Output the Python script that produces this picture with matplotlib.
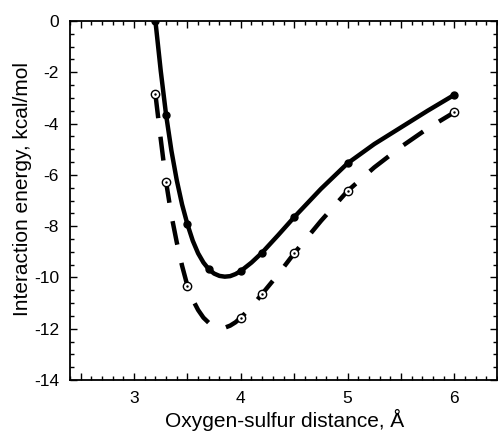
import matplotlib
matplotlib.use("Agg")
import matplotlib.pyplot as plt
from matplotlib.ticker import MultipleLocator, FuncFormatter

plt.rcParams["font.family"] = ["Liberation Sans", "DejaVu Sans"]

# computed points (filled = solid curve, open = dashed curve)
x_solid = [3.2, 3.3, 3.5, 3.7, 4.0, 4.2, 4.5, 5.0, 6.0]
y_solid = [0.0, -3.66, -7.93, -9.68, -9.75, -9.03, -7.65, -5.55, -2.88]
x_open = [3.2, 3.3, 3.5, 4.0, 4.2, 4.5, 5.0, 6.0]
y_open = [-2.86, -6.28, -10.33, -11.57, -10.64, -9.06, -6.63, -3.56]

# smooth curves
xc_solid = [3.2, 3.25, 3.3, 3.35, 3.4, 3.45, 3.5, 3.55, 3.6, 3.65, 3.7, 3.75,
            3.8, 3.85, 3.9, 3.95, 4.0, 4.1, 4.2, 4.35, 4.5, 4.75, 5.0, 5.25,
            5.5, 5.75, 6.0]
yc_solid = [0.0, -1.95, -3.66, -5.06, -6.21, -7.16, -7.93, -8.57, -9.06, -9.42,
            -9.68, -9.85, -9.94, -9.97, -9.95, -9.87, -9.75, -9.42, -9.03,
            -8.35, -7.65, -6.55, -5.55, -4.8, -4.15, -3.5, -2.88]
xc_open = [3.2, 3.25, 3.3, 3.35, 3.4, 3.45, 3.5, 3.55, 3.6, 3.65, 3.7, 3.75,
           3.8, 3.85, 3.9, 3.95, 4.0, 4.1, 4.2, 4.35, 4.5, 4.75, 5.0, 5.25,
           5.5, 5.75, 6.0]
yc_open = [-2.86, -4.61, -6.28, -7.58, -8.63, -9.55, -10.33, -10.87, -11.27,
           -11.57, -11.77, -11.9, -11.96, -11.96, -11.88, -11.75, -11.57,
           -11.15, -10.64, -9.88, -9.06, -7.8, -6.63, -5.71, -4.91, -4.19, -3.56]

fig = plt.figure(figsize=(4.98, 4.33), dpi=100)
ax = fig.add_axes([0.1406, 0.1224, 0.8574, 0.8291])

ax.plot(xc_solid, yc_solid, color="black", lw=3.2, solid_capstyle="round",
        solid_joinstyle="round")
ax.plot(xc_open, yc_open, color="black", lw=3.2, dashes=(5.4, 4.2),
        dash_capstyle="butt", dash_joinstyle="round")
ax.plot(x_solid, y_solid, "o", color="black", ms=5.0)
ax.plot(x_open, y_open, "o", mfc="white", mec="black", mew=1.0, ms=6.0)
ax.plot(x_open, y_open, ".", color="black", ms=1.5)

ax.set_xlim(2.4, 6.4)
ax.set_ylim(-14, 0)
ax.xaxis.set_major_locator(MultipleLocator(0.5))
ax.xaxis.set_minor_locator(MultipleLocator(0.1))
ax.xaxis.set_major_formatter(
    FuncFormatter(lambda v, p: "%d" % round(v) if abs(v - round(v)) < 1e-6 else ""))
ax.yaxis.set_major_locator(MultipleLocator(2))
ax.yaxis.set_minor_locator(MultipleLocator(0.5))
ax.yaxis.set_major_formatter(FuncFormatter(lambda v, p: "%d" % round(v)))

ax.tick_params(which="both", direction="in", top=True, right=True,
               labelsize=12.5, width=1.0)
ax.tick_params(which="major", length=5)
ax.tick_params(which="minor", length=3)
ax.tick_params(axis="y", pad=8)
ax.tick_params(axis="x", pad=8)
for s in ax.spines.values():
    s.set_linewidth(1.3)

ax.set_xlabel("Oxygen-sulfur distance, Å", fontsize=15)
ax.set_ylabel("Interaction energy, kcal/mol", fontsize=15)
ax.xaxis.set_label_coords(0.503, -0.08)
ax.yaxis.set_label_coords(-0.112, 0.532)
ax.yaxis.label.set_va("center")

fig.savefig("out.png", dpi=100)
